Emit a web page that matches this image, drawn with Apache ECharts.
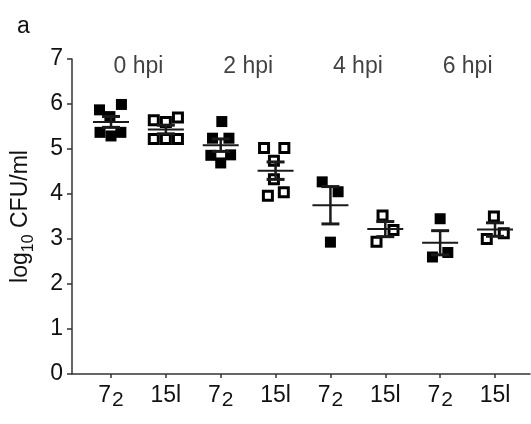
<!DOCTYPE html>
<html>
<head>
<meta charset="utf-8">
<script src="https://cdn.jsdelivr.net/npm/echarts@6/dist/echarts.min.js"></script>
<style>
html,body{margin:0;padding:0;background:#fff;}
#chart{width:531px;height:424px;}
</style>
</head>
<body>
<div id="chart"></div>
<script>
// ---- data ----
const categories = ['7_2','15l','7_2','15l','7_2','15l','7_2','15l'];
const groupLabels = ['0 hpi','2 hpi','4 hpi','6 hpi'];
const yTicks = [0,1,2,3,4,5,6,7];
const values = [
  [5.99,5.87,5.72,5.37,5.29,5.37],
  [5.64,5.60,5.70,5.22,5.22,5.22],
  [5.61,5.24,5.24,4.86,4.87,4.69],
  [5.02,5.02,4.74,4.33,3.96,4.04],
  [4.27,4.05,2.93],
  [3.52,3.20,2.94],
  [3.45,2.60,2.70],
  [3.50,3.13,3.00]
];
const jitter = [
  [0.19,-0.21,-0.02,-0.20,0.00,0.18],
  [-0.22,0.00,0.22,-0.22,0.00,0.22],
  [0.02,-0.15,0.15,-0.18,0.18,0.00],
  [-0.21,0.16,-0.03,-0.03,-0.14,0.15],
  [-0.15,0.14,0.00],
  [-0.05,0.15,-0.16],
  [0.00,-0.14,0.14],
  [-0.02,0.16,-0.15]
];

// ---- derived ----
const filledPts = [], hollowPts = [], errData = [];
values.forEach((arr, i) => {
  const x = i + 1;
  arr.forEach((v, j) => {
    (i % 2 === 0 ? filledPts : hollowPts).push([x + jitter[i][j], v]);
  });
  const n = arr.length;
  const m = arr.reduce((a, b) => a + b, 0) / n;
  const sd = Math.sqrt(arr.reduce((a, b) => a + (b - m) * (b - m), 0) / (n - 1));
  const sem = sd / Math.sqrt(n);
  errData.push([x, m, m - sem, m + sem]);
});
const groupData = groupLabels.map((g, k) => [2 * k + 1.5, 6.82, g]);

const FONT = '"Liberation Sans", Arial, sans-serif';
const FS = 23;
const chart = echarts.init(document.getElementById('chart'), null, {renderer: 'canvas'});
chart.setOption({
  animation: false,
  backgroundColor: '#fff',
  title: {
    text: 'a', left: 12, top: 10,
    textStyle: {fontFamily: FONT, fontSize: FS, fontWeight: 'normal', color: '#111'}
  },
  grid: {left: 72, right: 1, top: 59, bottom: 50, containLabel: false, outerBoundsMode: 'none'},
  xAxis: {
    type: 'value', min: 0.289, max: 8.638,
    splitLine: {show: false},
    axisLine: {show: true, onZero: false, lineStyle: {color: '#333', width: 1.5}},
    axisTick: {show: true, length: 4, customValues: categories.map((c, i) => i + 1),
      lineStyle: {color: '#333', width: 1.5}},
    axisLabel: {
      customValues: categories.map((c, i) => i + 1),
      margin: 10,
      formatter: v => {
        const c = categories[Math.round(v) - 1] || '';
        if (c.indexOf('_') >= 0) {
          const p = c.split('_');
          return '{n|' + p[0] + '}{s|' + p[1] + '}';
        }
        return '{n|' + c + '}';
      },
      rich: {
        n: {fontFamily: FONT, fontSize: FS, color: '#111', lineHeight: 24, verticalAlign: 'top'},
        s: {fontFamily: FONT, fontSize: 21, color: '#111', lineHeight: 24, padding: [8, 0, 0, 1]}
      }
    }
  },
  yAxis: {
    type: 'value', min: 0, max: 7, interval: 1,
    splitLine: {show: false},
    axisLine: {show: true, lineStyle: {color: '#333', width: 1.5}},
    axisTick: {show: true, length: 5, lineStyle: {color: '#333', width: 1.5}},
    axisLabel: {fontFamily: FONT, fontSize: FS, color: '#111', margin: 9,
      formatter: v => String(yTicks[yTicks.indexOf(v)])},
    name: '{n|log}{s|10}{n| CFU/ml}',
    nameLocation: 'middle',
    nameGap: 37,
    nameRotate: 90,
    nameTextStyle: {
      rich: {
        n: {fontFamily: FONT, fontSize: FS, color: '#111', lineHeight: 26, verticalAlign: 'top'},
        s: {fontFamily: FONT, fontSize: 16, color: '#111', lineHeight: 18, padding: [12, 0, 0, 0], verticalAlign: 'top'}
      }
    }
  },
  series: [
    {
      name: '7_2', type: 'scatter', data: filledPts,
      symbol: 'rect', symbolSize: 11,
      itemStyle: {color: '#000', opacity: 1}, z: 3
    },
    {
      name: '15l', type: 'scatter', data: hollowPts,
      symbol: 'rect', symbolSize: 9,
      itemStyle: {color: '#fff', borderColor: '#000', borderWidth: 3, opacity: 1}, z: 3
    },
    {
      type: 'custom', data: errData, z: 5,
      renderItem: (params, api) => {
        const x = api.value(0);
        const c = api.coord([x, api.value(1)]);
        const lo = api.coord([x, api.value(2)]);
        const hi = api.coord([x, api.value(3)]);
        const col = '#1a1a1a';
        return {
          type: 'group',
          children: [
            {type: 'line', shape: {x1: c[0] - 18, y1: c[1], x2: c[0] + 18, y2: c[1]}, style: {stroke: col, lineWidth: 2}},
            {type: 'line', shape: {x1: c[0], y1: hi[1], x2: c[0], y2: lo[1]}, style: {stroke: col, lineWidth: 2.5}},
            {type: 'line', shape: {x1: c[0] - 9, y1: hi[1], x2: c[0] + 9, y2: hi[1]}, style: {stroke: col, lineWidth: 3}},
            {type: 'line', shape: {x1: c[0] - 9, y1: lo[1], x2: c[0] + 9, y2: lo[1]}, style: {stroke: col, lineWidth: 3}}
          ]
        };
      }
    },
    {
      type: 'scatter', data: groupData, symbolSize: 0, silent: true,
      label: {show: true, position: 'inside', formatter: p => p.value[2],
        fontFamily: FONT, fontSize: FS, color: '#111'}
    }
  ]
});
</script>
</body>
</html>
